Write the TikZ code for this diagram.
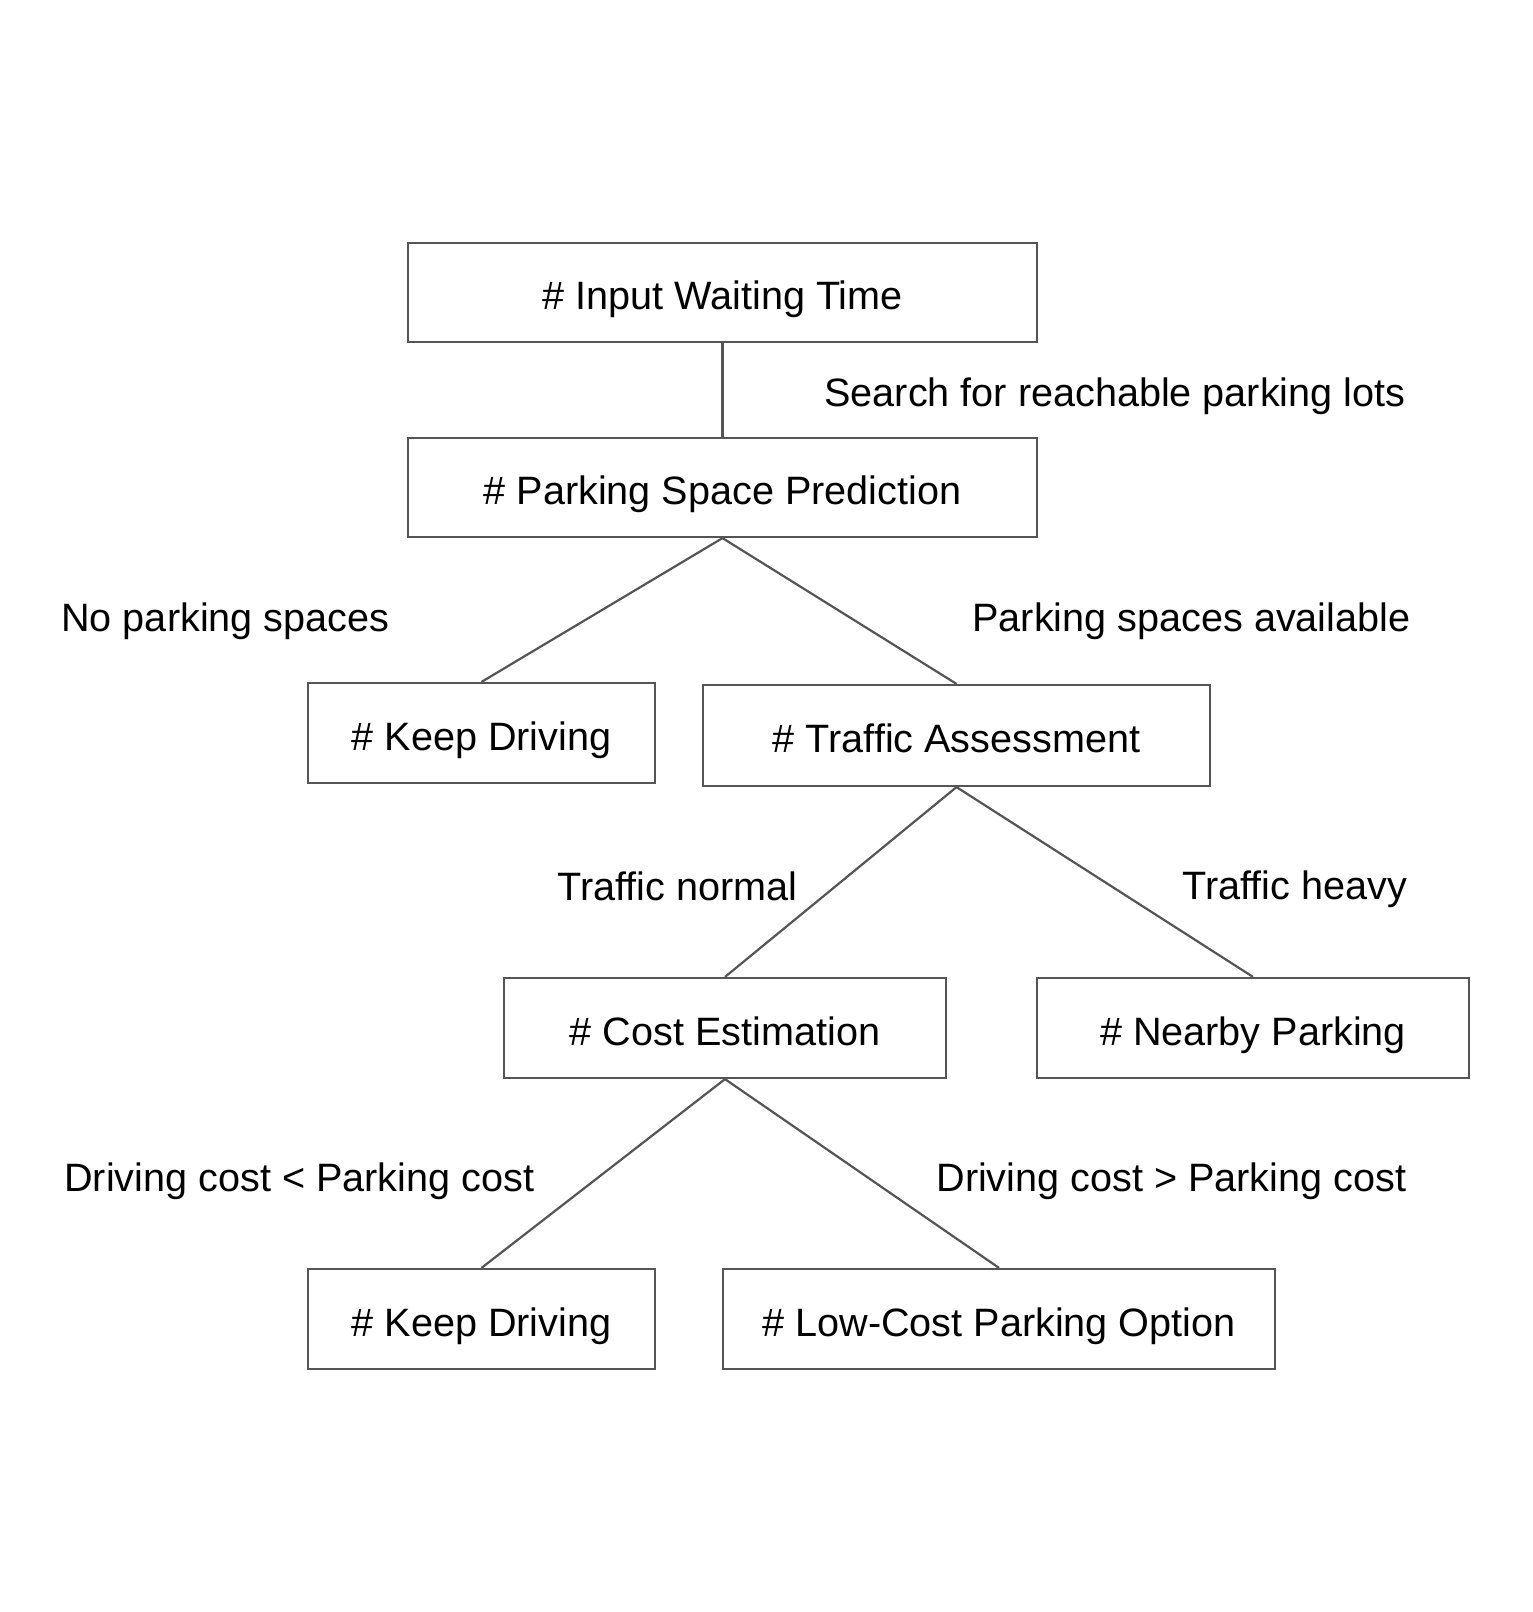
\documentclass[tikz,border=0pt]{standalone}
\usepackage{fontspec}
\setmainfont{Liberation Sans}
\begin{document}
\begin{tikzpicture}[x=0.5pt,y=-0.5pt,
  box/.style={draw=linegray,line width=1.1pt,rectangle,inner sep=0pt,text height=17.3pt,text depth=0pt,font=\fontsize{19.8pt}{24pt}\selectfont},
  lbl/.style={anchor=base west,inner sep=0pt,font=\fontsize{19.8pt}{24pt}\selectfont},
  conn/.style={draw=linegray,line width=1.1pt}]
\definecolor{linegray}{HTML}{555555}
\useasboundingbox[fill=white] (0,0) rectangle (1532,1612);
\node[box,minimum width=314.5pt,minimum height=49.5pt] (iwt) at (722.5,292.5) {\# Input Waiting Time};
\node[box,minimum width=314.5pt,minimum height=49.5pt] (psp) at (722.5,487.5) {\# Parking Space Prediction};
\node[box,minimum width=173.5pt,minimum height=50pt] (kd1) at (481.5,733) {\# Keep Driving};
\node[box,minimum width=253.5pt,minimum height=50.5pt] (ta) at (956.5,735.5) {\# Traffic Assessment};
\node[box,minimum width=221pt,minimum height=50pt] (ce) at (725,1028) {\# Cost Estimation};
\node[box,minimum width=216pt,minimum height=50pt] (np) at (1253,1028) {\# Nearby Parking};
\node[box,minimum width=173.5pt,minimum height=50pt] (kd2) at (481.5,1319) {\# Keep Driving};
\node[box,minimum width=276pt,minimum height=50pt] (lc) at (999,1319) {\# Low-Cost Parking Option};
\draw[conn] (iwt.south) -- (psp.north);
\draw[conn] (psp.south) -- (kd1.north);
\draw[conn] (psp.south) -- (ta.north);
\draw[conn] (ta.south) -- (ce.north);
\draw[conn] (ta.south) -- (np.north);
\draw[conn] (ce.south) -- (kd2.north);
\draw[conn] (ce.south) -- (lc.north);
\node[lbl] (l1) at (824,406) {Search for reachable parking lots};
\node[lbl] (l2) at (61,631) {No parking spaces};
\node[lbl] (l3) at (972,631) {Parking spaces available};
\node[lbl] (l4) at (557,900) {Traffic normal};
\node[lbl] (l5) at (1182,899) {Traffic heavy};
\node[lbl] (l6) at (64,1191) {Driving cost < Parking cost};
\node[lbl] (l7) at (936,1191) {Driving cost > Parking cost};
\end{tikzpicture}
\end{document}
